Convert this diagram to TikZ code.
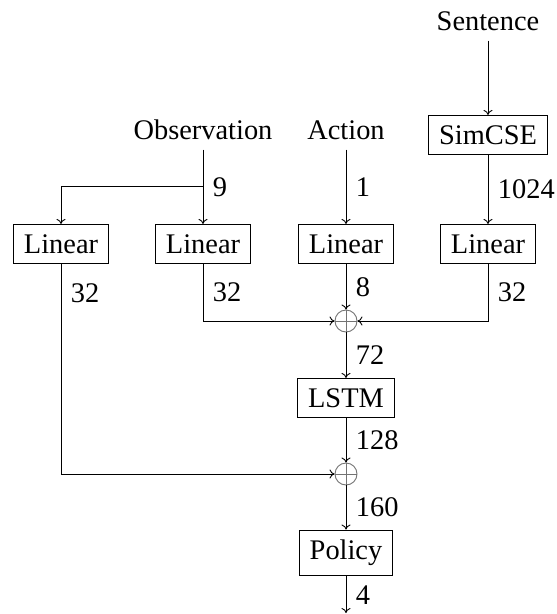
\documentclass[tikz,border=0pt]{standalone}
\usepackage{fontspec}
\setmainfont{Liberation Serif}
\usetikzlibrary{arrows.meta,calc}
\begin{document}
\begin{tikzpicture}[x=1pt,y=-1pt,
  every node/.style={font=\fontsize{28.4}{34}\selectfont},
  line width=0.9pt,
  >={To[length=5pt,width=9pt]},
  blk/.style={draw, line width=1.1pt, inner xsep=10.5pt, inner ysep=10pt},
  src/.style={inner sep=10pt, anchor=base},
  dim/.style={anchor=west, inner sep=0pt, xshift=9.5pt},
  sum/.style={circle, draw=black!55, line width=0.9pt, minimum size=22pt,
    inner sep=0pt,
    path picture={\draw[black!55, line width=0.9pt]
      (path picture bounding box.north) -- (path picture bounding box.south)
      (path picture bounding box.west) -- (path picture bounding box.east);}},
]
\useasboundingbox (0,0) rectangle (557,614);

% inputs
\node[src] (obs)  at (203,139) {Observation};
\node[src] (act)  at (346,139) {Action};
\node[src] (sent) at (488,30)  {Sentence};

% encoders
\node[blk] (sim)  at (488,135) {SimCSE};
\node[blk] (lin1) at (61,244)  {Linear};
\node[blk] (lin2) at (203,244) {Linear};
\node[blk] (lin3) at (346,244) {Linear};
\node[blk] (lin4) at (488,244) {Linear};

% fusion and recurrent core
\node[sum] (sum1) at (346,321) {};
\node[blk] (lstm) at (346,398) {LSTM};
\node[sum] (sum2) at (346,474) {};
\node[blk] (pol)  at (346,553) {Policy};

\coordinate (split) at (203,186);
\coordinate (out)   at (346,613);

% connectors
\draw[->] (sent) -- (sim);
\draw[->] (sim) -- node[dim]{1024} (lin4);
\draw[->] (obs) -- node[dim]{9} (lin2);
\draw[->] (split) -| (lin1);
\draw[->] (act) -- node[dim]{1} (lin3);
\draw[->] (lin3) -- node[dim]{8} (sum1);
\draw[->] (lin2) |- node[dim,pos=0.25]{32} (sum1);
\draw[->] (lin4) |- node[dim,pos=0.25]{32} (sum1);
\draw[->] (lin1) |- node[dim,pos=0.07]{32} (sum2);
\draw[->] (sum1) -- node[dim]{72} (lstm);
\draw[->] (lstm) -- node[dim]{128} (sum2);
\draw[->] (sum2) -- node[dim]{160} (pol);
\draw[->] (pol) -- node[dim]{4} (out);
\end{tikzpicture}
\end{document}
